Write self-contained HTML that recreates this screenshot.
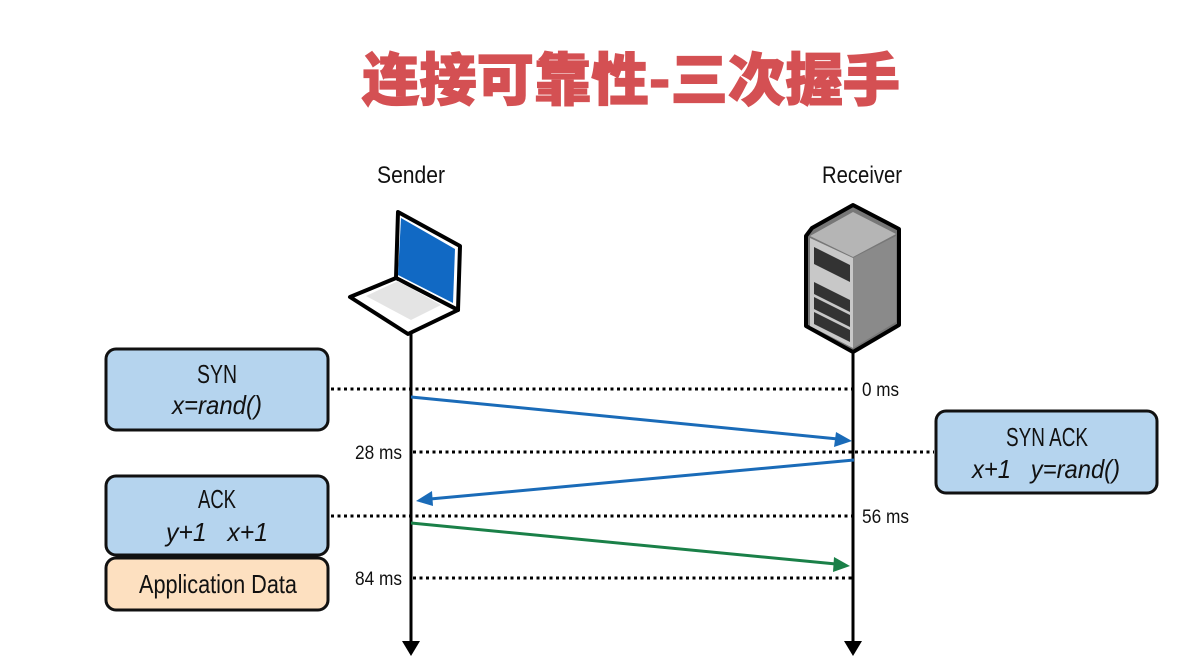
<!DOCTYPE html>
<html><head><meta charset="utf-8"><style>
html,body{margin:0;padding:0;background:#fff;}
svg{display:block;}
text{font-family:"Liberation Sans","Noto Sans CJK SC",sans-serif;}
</style></head><body>
<svg width="1203" height="662" viewBox="0 0 1203 662" xmlns="http://www.w3.org/2000/svg">
<text x="631" y="100" text-anchor="middle" font-size="57" font-weight="900" fill="#d45053" stroke="#d45053" stroke-width="1.2" textLength="538" lengthAdjust="spacingAndGlyphs" style="font-family:'Noto Sans CJK SC',sans-serif">连接可靠性-三次握手</text>
<text x="411" y="183" text-anchor="middle" font-size="24" fill="#111" textLength="68" lengthAdjust="spacingAndGlyphs">Sender</text>
<text x="862" y="183" text-anchor="middle" font-size="24" fill="#111" textLength="80" lengthAdjust="spacingAndGlyphs">Receiver</text>

<!-- laptop -->
<g stroke="#000" stroke-width="4" stroke-linejoin="round">
<polygon points="398,212 460,246 458,310 396,278" fill="#fff"/>
<polygon points="350,297 396,278 458,310 408,334" fill="#fff"/>
</g>
<polygon points="401,218 455,249 453,303 398,275" fill="#1169c4"/>
<polygon points="366,296 398,281 441,305 411,320" fill="#e4e4e4"/>
<!-- server -->
<polygon points="806,236 812,228 853,205 899,229 899,325 853,352 806,326" fill="#777" stroke="#000" stroke-width="4" stroke-linejoin="round"/>
<polygon points="810,236 853,212 896,234 853,257" fill="#b5b5b5"/>
<polygon points="810,238 853,258 853,348 810,326" fill="#c8c8c8"/>
<polygon points="853,258 896,236 896,322 853,348" fill="#8a8a8a"/>
<g fill="#333">
<polygon points="814,247 850,265 850,282 814,264"/>
<polygon points="814,282 850,300 850,312 814,294"/>
<polygon points="814,297 850,315 850,327 814,309"/>
<polygon points="814,312 850,330 850,342 814,324"/>
</g>

<!-- lifelines -->
<line x1="411" y1="334" x2="411" y2="645" stroke="#000" stroke-width="3"/>
<polygon points="402,641 420,641 411,656" fill="#000"/>
<line x1="853" y1="350" x2="853" y2="645" stroke="#000" stroke-width="3"/>
<polygon points="844,641 862,641 853,656" fill="#000"/>

<!-- dotted -->
<g stroke="#000" stroke-width="3" stroke-dasharray="3,3.5">
<line x1="331" y1="389" x2="852" y2="389"/>
<line x1="413" y1="452" x2="934" y2="452"/>
<line x1="331" y1="516" x2="852" y2="516"/>
<line x1="413" y1="578" x2="852" y2="578"/>
</g>
<g font-size="19" fill="#111">
<text x="862" y="396" textLength="37" lengthAdjust="spacingAndGlyphs">0 ms</text>
<text x="402" y="459" text-anchor="end" textLength="47" lengthAdjust="spacingAndGlyphs">28 ms</text>
<text x="862" y="523" textLength="47" lengthAdjust="spacingAndGlyphs">56 ms</text>
<text x="402" y="585" text-anchor="end" textLength="47" lengthAdjust="spacingAndGlyphs">84 ms</text>
</g>

<!-- arrows -->
<line x1="411" y1="397" x2="838" y2="439" stroke="#1a6bb8" stroke-width="3"/>
<polygon points="852,441 836,432 834,447" fill="#1a6bb8"/>
<line x1="854" y1="460" x2="430" y2="499" stroke="#1a6bb8" stroke-width="3"/>
<polygon points="416,501 432,491 433,506" fill="#1a6bb8"/>
<line x1="411" y1="523" x2="836" y2="564" stroke="#1a8048" stroke-width="3"/>
<polygon points="850,566 834,557 833,572" fill="#1a8048"/>

<!-- boxes -->
<g stroke="#111" stroke-width="3">
<rect x="106" y="349" width="222" height="81" rx="10" fill="#b5d4ee"/>
<rect x="106" y="476" width="222" height="79" rx="10" fill="#b5d4ee"/>
<rect x="106" y="558" width="222" height="52" rx="10" fill="#fde0c0"/>
<rect x="936" y="411" width="221" height="82" rx="10" fill="#b5d4ee"/>
</g>
<g font-size="26" fill="#111" text-anchor="middle">
<text x="217" y="383" textLength="40" lengthAdjust="spacingAndGlyphs">SYN</text>
<text x="217" y="414" font-style="italic" textLength="90" lengthAdjust="spacingAndGlyphs">x=rand()</text>
<text x="217" y="508" textLength="38" lengthAdjust="spacingAndGlyphs">ACK</text>
<text x="217" y="541" font-style="italic" textLength="102" lengthAdjust="spacingAndGlyphs" xml:space="preserve">y+1   x+1</text>
<text x="218" y="593" textLength="158" lengthAdjust="spacingAndGlyphs">Application Data</text>
<text x="1047" y="446" textLength="82" lengthAdjust="spacingAndGlyphs">SYN ACK</text>
<text x="1046" y="478" font-style="italic" textLength="148" lengthAdjust="spacingAndGlyphs" xml:space="preserve">x+1   y=rand()</text>
</g>
</svg>
</body></html>
